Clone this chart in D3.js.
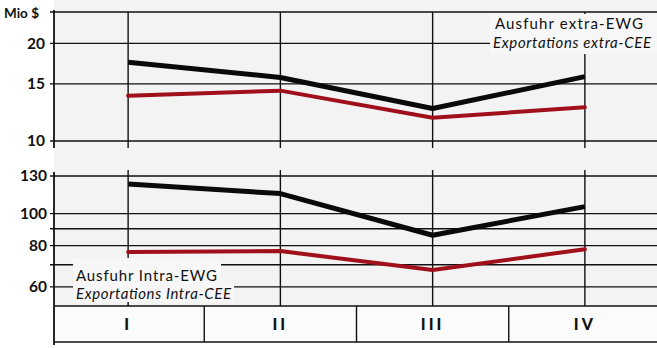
<!DOCTYPE html>
<html><head><meta charset="utf-8">
<script src="https://cdn.jsdelivr.net/npm/d3@7"></script>
<style>
html,body{margin:0;padding:0;background:#fff;}
svg{display:block;}
text{font-family:Lato,"Open Sans",sans-serif;fill:#111;}
</style></head>
<body><svg id="c" width="657" height="348"></svg>
<script>
const quarters = ["I","II","III","IV"];
const extraTotal = [17.5, 15.7, 12.6, 15.8];   // black, top panel
const extraRed   = [13.8, 14.3, 11.8, 12.7];   // red, top panel
const intraTotal = [123, 115, 86, 105];        // black, bottom panel
const intraRed   = [76.5, 77, 67.5, 78];       // red, bottom panel
const topTicks = [10, 15, 20];
const topTickLabels = ["10", "15", "20"];
const bottomGrid = [60, 70, 80, 90, 100, 130];
const bottomTickLabels = {60: "60", 80: "80", 100: "100", 130: "130"};
const unitLabel = "Mio  $";
const legendTop = ["Ausfuhr  extra-EWG", "Exportations  extra-CEE"];
const legendBottom = ["Ausfuhr  Intra-EWG", "Exportations  Intra-CEE"];

const svg = d3.select("#c");
const W = 657, axisX = 54;
const RED = "#a0101a";

const x = d3.scaleBand().domain(quarters).range([52, 661]);
const cx = q => x(q) + x.bandwidth() / 2;

const yTop = d3.scaleLog().domain([10, 25]).range([141, 12]);
const yBot = d3.scaleLog().domain([52.5, 130]).range([306, 176]);

// plot background
svg.append("rect").attr("x", axisX).attr("y", 0).attr("width", W - axisX).attr("height", 306).attr("fill", "#f3f3f3");
svg.append("rect").attr("x", axisX).attr("y", 306).attr("width", W - axisX).attr("height", 36).attr("fill", "#fbfbfb");

const gridStyle = s => s.attr("stroke", "#111").attr("stroke-width", 1.4);

// top panel grid
const topGridVals = topTicks.concat([25]);
svg.append("g").selectAll("line").data(topGridVals).join("line")
  .attr("x1", axisX - 4).attr("x2", W).attr("y1", d => yTop(d)).attr("y2", d => yTop(d)).call(gridStyle);
// bottom panel grid
svg.append("g").selectAll("line").data(bottomGrid).join("line")
  .attr("x1", axisX - 4).attr("x2", W).attr("y1", d => yBot(d)).attr("y2", d => yBot(d)).call(gridStyle);

// verticals
svg.append("g").selectAll("line").data(quarters).join("line")
  .attr("x1", cx).attr("x2", cx).attr("y1", yTop(25)).attr("y2", 148).call(gridStyle);
svg.append("g").selectAll("line").data(quarters).join("line")
  .attr("x1", cx).attr("x2", cx).attr("y1", 170).attr("y2", 306).call(gridStyle);

// axes
svg.append("line").attr("x1", axisX).attr("x2", axisX).attr("y1", 10).attr("y2", 148).call(gridStyle).attr("stroke-width", 1.8);
svg.append("line").attr("x1", axisX).attr("x2", axisX).attr("y1", 172).attr("y2", 345).call(gridStyle).attr("stroke-width", 1.8);

const axT = d3.axisLeft(yTop).tickValues(topTicks).tickFormat((d, i) => topTickLabels[i]).tickSize(0).tickPadding(9);
const gT = svg.append("g").attr("transform", `translate(${axisX},0)`).call(axT);
gT.select(".domain").remove();
gT.selectAll("text").attr("font-size", 15.5).attr("font-weight", "bold").style("font-family", "Lato,sans-serif").attr("fill", "#111");

const axB = d3.axisLeft(yBot).tickValues([60, 80, 100, 130]).tickFormat(d => bottomTickLabels[d]).tickSize(0).tickPadding(7);
const gB = svg.append("g").attr("transform", `translate(${axisX},0)`).call(axB);
gB.select(".domain").remove();
gB.selectAll("text").attr("font-size", 15.5).attr("font-weight", "bold").style("font-family", "Lato,sans-serif").attr("fill", "#111");

svg.append("text").attr("x", 4).attr("y", 18).attr("font-size", 13.5).attr("font-weight", "bold").text(unitLabel);

// lines
const lineTop = d3.line().x((d, i) => cx(quarters[i])).y(d => yTop(d));
const lineBot = d3.line().x((d, i) => cx(quarters[i])).y(d => yBot(d));
svg.append("path").attr("d", lineTop(extraRed)).attr("fill", "none").attr("stroke", RED).attr("stroke-width", 4).attr("stroke-linejoin", "round").attr("stroke-linecap", "round");
svg.append("path").attr("d", lineTop(extraTotal)).attr("fill", "none").attr("stroke", "#0a0a0a").attr("stroke-width", 5).attr("stroke-linejoin", "round");
svg.append("path").attr("d", lineBot(intraRed)).attr("fill", "none").attr("stroke", RED).attr("stroke-width", 4).attr("stroke-linejoin", "round").attr("stroke-linecap", "round");
svg.append("path").attr("d", lineBot(intraTotal)).attr("fill", "none").attr("stroke", "#0a0a0a").attr("stroke-width", 5).attr("stroke-linejoin", "round");

// top legend
svg.append("rect").attr("x", 490).attr("y", 14).attr("width", 167).attr("height", 40).attr("fill", "#f7f7f7");
svg.append("text").attr("x", 569).attr("y", 29).attr("text-anchor", "middle").attr("font-size", 15).attr("font-weight", 400).attr("textLength", 148).text(legendTop[0]);
svg.append("text").attr("x", 572).attr("y", 48).attr("text-anchor", "middle").attr("font-size", 15).attr("font-style", "italic").attr("font-weight", 400).attr("textLength", 158).text(legendTop[1]);

// bottom legend
svg.append("rect").attr("x", 73).attr("y", 258).attr("width", 148).attr("height", 25).attr("fill", "#f7f7f7");
svg.append("rect").attr("x", 73).attr("y", 283).attr("width", 161).attr("height", 19).attr("fill", "#f7f7f7");
svg.append("text").attr("x", 76).attr("y", 281).attr("font-size", 15).attr("font-weight", 400).attr("textLength", 141).text(legendBottom[0]);
svg.append("text").attr("x", 76).attr("y", 299).attr("font-size", 15).attr("font-style", "italic").attr("font-weight", 400).attr("textLength", 155).text(legendBottom[1]);

// category band
svg.append("line").attr("x1", axisX).attr("x2", W).attr("y1", 306).attr("y2", 306).call(gridStyle);
svg.append("line").attr("x1", axisX).attr("x2", W).attr("y1", 342).attr("y2", 342).call(gridStyle);
svg.append("g").selectAll("line").data(quarters.slice(1)).join("line")
  .attr("x1", d => x(d)).attr("x2", d => x(d)).attr("y1", 306).attr("y2", 342).call(gridStyle);
svg.append("g").selectAll("text").data(quarters).join("text")
  .attr("x", cx).attr("y", 330).attr("text-anchor", "middle")
  .attr("font-size", 16).attr("font-weight", 900).attr("letter-spacing", 3)
  .text(d => d);
</script></body></html>
